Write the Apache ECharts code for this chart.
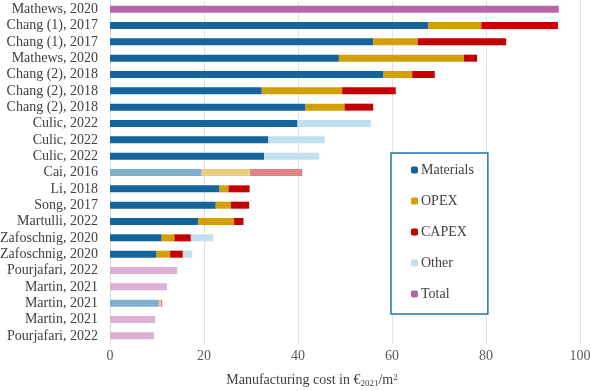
<!DOCTYPE html>
<html>
<head>
<meta charset="utf-8">
<script src="https://cdn.jsdelivr.net/npm/echarts@6/dist/echarts.min.js"></script>
<style>
  html, body { margin: 0; padding: 0; background: #fff; }
  #main { width: 591px; height: 391px; }
</style>
</head>
<body>
<div id="main"></div>
<script>
// rows, top to bottom
var studies = ['Mathews, 2020', 'Chang (1), 2017', 'Chang (1), 2017', 'Mathews, 2020',
    'Chang (2), 2018', 'Chang (2), 2018', 'Chang (2), 2018', 'Culic, 2022', 'Culic, 2022',
    'Culic, 2022', 'Cai, 2016', 'Li, 2018', 'Song, 2017', 'Martulli, 2022',
    'Zafoschnig, 2020', 'Zafoschnig, 2020', 'Pourjafari, 2022', 'Martin, 2021',
    'Martin, 2021', 'Martin, 2021', 'Pourjafari, 2022'];

// segment lengths in €2021/m2
var materials = [null, 67.7, 56.0, 48.7, 58.2, 32.3, 41.6, 39.9, 33.7, 32.8, 19.5, 23.3, 22.5, 18.8, 11.0, 9.9, null, null, 10.4, null, null];
var opex      = [null, 11.3, 9.5, 26.6, 6.1, 17.1, 8.3, null, null, null, 10.3, 1.9, 3.2, 7.6, 2.7, 2.9, null, null, 0.4, null, null];
var capex     = [null, 16.3, 18.8, 2.8, 4.8, 11.4, 6.1, null, null, null, 11.1, 4.5, 3.9, 2.0, 3.5, 2.7, null, null, 0.3, null, null];
var other     = [null, null, null, null, null, null, null, 15.6, 12.0, 11.7, null, null, null, null, 4.8, 2.0, null, null, null, null, null];
var total     = [95.5, null, null, null, null, null, null, null, null, null, null, null, null, null, null, null, 14.3, 12.1, null, 9.6, 9.4];

// rows drawn with the textured (estimated) fill
var hatched = [false, false, false, false, false, false, false, false, false, false, true,
    false, false, false, false, false, true, true, true, true, true];

var xTicks = [0, 20, 40, 60, 80, 100];

var colors = {
    Materials: ['#13659b', '#76abcc'],
    OPEX: ['#d29f06', '#e9cc78'],
    CAPEX: ['#c40000', '#e07b80'],
    Other: ['#c2dff0', '#d6eaf6'],
    Total: ['#b767a8', '#dcaad5']
};

function mkData(vals, name) {
    return vals.map(function (v, i) {
        if (v == null) return null;
        if (!hatched[i]) return v;
        return {
            value: v,
            itemStyle: {
                color: colors[name][1],
                decal: {
                    symbol: 'rect',
                    symbolSize: 1,
                    color: 'rgba(255,255,255,0.22)',
                    dashArrayX: [1, 1],
                    dashArrayY: [1, 1],
                    rotation: 0
                }
            }
        };
    });
}

function mkSeries(name, vals) {
    return {
        name: name,
        type: 'bar',
        stack: 'cost',
        barWidth: 7,
        itemStyle: { color: colors[name][0] },
        data: mkData(vals, name)
    };
}

var myChart = echarts.init(document.getElementById('main'));
var option = {
    animation: false,
    textStyle: { fontFamily: 'Liberation Serif' },
    grid: { left: 110, right: 11, top: 1, bottom: 47, containLabel: false, outerBoundsMode: 'none' },
    legend: {
        orient: 'vertical',
        left: 391,
        top: 153,
        width: 94,
        padding: [10, 14, 13, 20],
        itemGap: 17,
        itemWidth: 7,
        itemHeight: 7,
        borderColor: '#2673ae',
        borderWidth: 1.5,
        backgroundColor: '#fff',
        textStyle: { fontFamily: 'Liberation Serif', fontSize: 14, color: '#404040', padding: [0, 0, 0, -2] },
        data: ['Materials', 'OPEX', 'CAPEX', 'Other', 'Total']
    },
    xAxis: {
        type: 'value',
        min: xTicks[0],
        max: xTicks[xTicks.length - 1],
        interval: 20,
        axisLine: { show: false },
        axisTick: { show: false },
        axisLabel: { fontFamily: 'Liberation Serif', fontSize: 14, color: '#595959', margin: 5 },
        splitLine: { lineStyle: { color: '#e2e2e2', width: 1 } },
        name: '{a|Manufacturing cost in €}{s|2021}{a|/m}{p|2}',
        nameLocation: 'middle',
        nameGap: 29,
        nameTextStyle: {
            padding: [0, 66, 0, 0],
            rich: {
                a: { fontFamily: 'Liberation Serif', fontSize: 14, color: '#404040' },
                s: { fontFamily: 'Liberation Serif', fontSize: 9, color: '#404040', verticalAlign: 'bottom', padding: [6, 0, 0, 0] },
                p: { fontFamily: 'Liberation Serif', fontSize: 9, color: '#404040', verticalAlign: 'top', padding: [0, 0, 6, 0] }
            }
        }
    },
    yAxis: {
        type: 'category',
        inverse: true,
        data: studies,
        axisLine: { show: true, lineStyle: { color: '#d9d9d9' } },
        axisTick: { show: false },
        axisLabel: { interval: 0, fontFamily: 'Liberation Serif', fontSize: 14, color: '#404040', margin: 12 }
    },
    series: [
        mkSeries('Materials', materials),
        mkSeries('OPEX', opex),
        mkSeries('CAPEX', capex),
        mkSeries('Other', other),
        mkSeries('Total', total)
    ]
};
myChart.setOption(option);
</script>
</body>
</html>
